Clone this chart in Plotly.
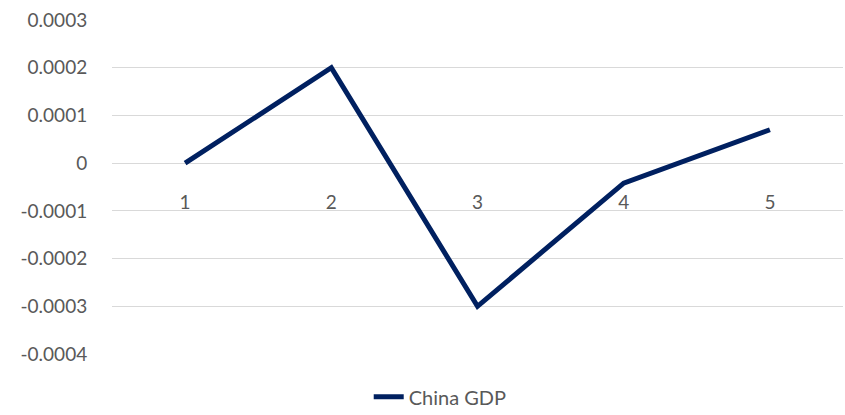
import plotly.graph_objects as go

categories = [1, 2, 3, 4, 5]
china_gdp = [0.0, 0.0002, -0.0003, -0.000042, 0.00007]
y_ticks = [0.0003, 0.0002, 0.0001, 0, -0.0001, -0.0002, -0.0003, -0.0004]
y_tick_labels = ["0.0003", "0.0002", "0.0001", "0", "-0.0001", "-0.0002", "-0.0003", "-0.0004"]

FONT = "Lato"
TXT = "#595959"

fig = go.Figure()
fig.add_trace(go.Scatter(
    x=categories, y=china_gdp, mode="lines", name="China GDP",
    line=dict(color="#002060", width=5),
))

fig.update_layout(
    width=845, height=415,
    margin=dict(l=112, r=2, t=20, b=61, autoexpand=False),
    paper_bgcolor="white", plot_bgcolor="white",
    font=dict(family=FONT, size=19, color=TXT),
    showlegend=True,
    legend=dict(orientation="h", x=0.449, xanchor="center", y=-0.128, yanchor="middle",
                font=dict(family=FONT, size=20, color=TXT), bgcolor="rgba(0,0,0,0)"),
    xaxis=dict(
        range=[0.5, 5.5], tickmode="array", tickvals=categories,
        ticktext=[str(c) for c in categories],
        showgrid=False, zeroline=False, showline=False,
        anchor="free", position=4/7, automargin=False,
        ticks="outside", ticklen=22, tickcolor="rgba(0,0,0,0)",
        tickfont=dict(family=FONT, size=19, color=TXT),
    ),
    yaxis=dict(
        range=[-0.0004, 0.0003], tickmode="array", tickvals=y_ticks, ticktext=y_tick_labels,
        showgrid=True, gridcolor="#d9d9d9", gridwidth=1.3, automargin=False,
        zeroline=True, zerolinecolor="#d9d9d9", zerolinewidth=1.3,
        showline=False, ticks="outside", ticklen=20, tickcolor="rgba(0,0,0,0)",
        tickfont=dict(family=FONT, size=19, color=TXT),
    ),
)

fig.write_html("out.html")
